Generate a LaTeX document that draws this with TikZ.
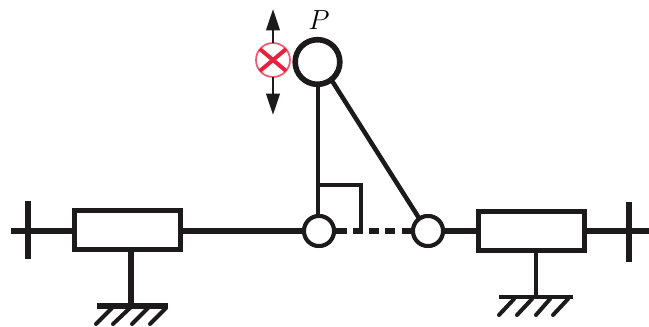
\documentclass[tikz,border=0pt]{standalone}
\usetikzlibrary{arrows.meta}
\definecolor{ink}{HTML}{1C1A1B}
\definecolor{redx}{HTML}{E8213F}
\definecolor{redc}{HTML}{EE5A72}
\tikzset{
  x=0.75pt,y=-0.75pt,
  thick line/.style={line width=4.2pt,draw=ink},
  mid line/.style={line width=3.4pt,draw=ink},
  thin line/.style={line width=2.4pt,draw=ink},
  hatch line/.style={line width=3pt,draw=ink,line cap=round},
  slider/.style={rectangle,draw=ink,line width=4.2pt,fill=white,inner sep=0pt,outer sep=0pt,minimum width=79.5pt,minimum height=29.5pt},
  joint/.style={circle,draw=ink,line width=3pt,fill=white,inner sep=0pt,outer sep=0pt,minimum size=22.5pt},
  mass/.style={circle,draw=ink,line width=4.2pt,fill=white,inner sep=0pt,outer sep=0pt,minimum size=33.5pt},
  force/.style={circle,draw=redc,line width=1.3pt,fill=white,inner sep=0pt,outer sep=0pt,minimum size=25.5pt},
  motion/.style={line width=2.1pt,draw=ink,-{Triangle[length=16pt,width=10pt]}},
}
\begin{document}
\begin{tikzpicture}
\useasboundingbox (0,0) rectangle (649,327);
\coordinate (leftend) at (11,231);
\coordinate (rightend) at (649,231);
\coordinate (ltickT) at (28,201);
\coordinate (ltickB) at (28,259);
\coordinate (rtickT) at (629,202);
\coordinate (rtickB) at (629,262);
\coordinate (lgnd) at (131,306);
\coordinate (rgnd) at (536,297);
\coordinate (lgndL) at (97,306);
\coordinate (lgndR) at (168,306);
\coordinate (rgndL) at (499,297);
\coordinate (rgndR) at (573,297);
\coordinate (upTip) at (273,9);
\coordinate (downTip) at (273,115);
\coordinate (cornerA) at (318,185);
\coordinate (cornerB) at (361,185);
\coordinate (cornerC) at (361,231);
\node[slider] (lbox) at (127.5,230) {};
\node[slider] (rbox) at (531.5,231) {};
\node[joint] (j1) at (319,231) {};
\node[joint] (j2) at (428,231) {};
\node[mass] (P) at (317.5,62) {};
\node[force] (F) at (273,60) {};
\node[font=\fontsize{21}{21}\selectfont] (Plabel) at (319,20) {$P$};
\draw[thick line] (leftend) -- (lbox.west |- leftend);
\draw[thick line] (lbox.east |- leftend) -- (j1.west);
\draw[thick line] (j2.east) -- (rbox.west);
\draw[thick line] (rbox.east) -- (rightend);
\draw[thick line] (ltickT) -- (ltickB);
\draw[thick line] (rtickT) -- (rtickB);
\draw[thick line] (lbox.south -| lgnd) -- (lgnd);
\draw[mid line] (rbox.south -| rgnd) -- (rgnd);
\draw[thick line] (lgndL) -- (lgndR);
\draw[mid line] (rgndL) -- (rgndR);
\foreach \a/\b in {112/96,130/113,148/132,166/150}{
  \draw[hatch line] (\a,308) -- (\b,324);
}
\foreach \a/\b in {514/499,532/517,550/536,568/553}{
  \draw[hatch line] (\a,299) -- (\b,315);
}
\draw[mid line] (P.south -| cornerA) -- (j1.north -| cornerA);
\draw[mid line] (P.-52) -- (j2.125);
\draw[thin line] (cornerA) -- (cornerB) -- (cornerC);
\draw[thick line] (j1.east) -- (347,231);
\draw[thick line] (353,231) -- (363,231);
\draw[thick line] (369,231) -- (379,231);
\draw[thick line] (385,231) -- (395,231);
\draw[thick line] (402,231) -- (j2.west);
\node[joint] at (j1) {};
\node[joint] at (j2) {};
\draw[motion] (F.north) -- (upTip);
\draw[motion] (F.south) -- (downTip);
\draw[redx,line width=3pt] (F.40) -- (F.220);
\draw[redx,line width=3pt] (F.140) -- (F.320);
\end{tikzpicture}
\end{document}
